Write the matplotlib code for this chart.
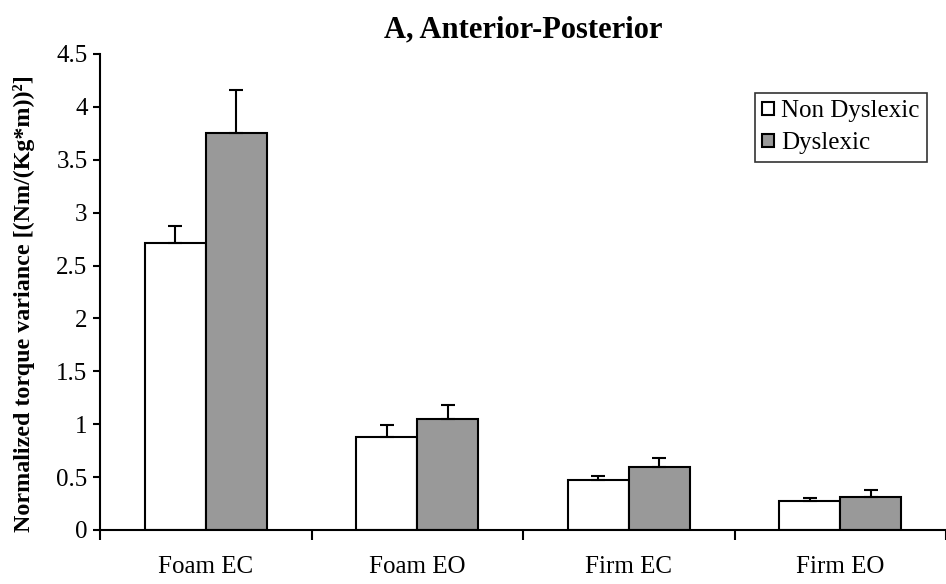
import matplotlib.pyplot as plt
import numpy as np

# dados
condicoes = ['Foam EC', 'Foam EO', 'Firm EC', 'Firm EO']
nao_dislexico = [2.71, 0.88, 0.47, 0.27]
nao_dislexico_erro = [0.16, 0.11, 0.045, 0.03]
dislexico = [3.75, 1.05, 0.60, 0.315]
dislexico_erro = [0.41, 0.13, 0.08, 0.065]

plt.rcParams['font.family'] = ['Liberation Serif', 'DejaVu Serif']

fig = plt.figure(figsize=(9.46, 5.84), dpi=100)
ax = fig.add_axes([100 / 946, 54 / 584, 846 / 946, 476 / 584])

x = np.arange(len(condicoes))
largura = 0.288

ax.bar(x - largura / 2, nao_dislexico, largura, color='white', edgecolor='black',
       linewidth=1.5, label='Non Dyslexic', zorder=2)
ax.bar(x + largura / 2, dislexico, largura, color='#999999', edgecolor='black',
       linewidth=1.5, label='Dyslexic', zorder=2)
ax.errorbar(x - largura / 2, nao_dislexico, yerr=[np.zeros(4), nao_dislexico_erro],
            fmt='none', ecolor='black', elinewidth=1.5, capsize=4.7, capthick=1.5, zorder=3)
ax.errorbar(x + largura / 2, dislexico, yerr=[np.zeros(4), dislexico_erro],
            fmt='none', ecolor='black', elinewidth=1.5, capsize=4.7, capthick=1.5, zorder=3)

ax.set_xlim(-0.5, 3.5)
ax.set_ylim(0, 4.5)
ax.set_yticks(np.arange(0, 4.51, 0.5))
ax.set_yticklabels(['0', '0.5', '1', '1.5', '2', '2.5', '3', '3.5', '4', '4.5'])

# marcas nas divisões, rótulos no centro
ax.set_xticks(np.arange(-0.5, 3.6, 1))
ax.set_xticklabels([])
ax.set_xticks(x, minor=True)
ax.set_xticklabels(condicoes, minor=True)
ax.tick_params(axis='x', which='minor', length=0, pad=19, labelsize=18)
ax.tick_params(axis='x', which='major', length=7, width=1.5, direction='out')
ax.tick_params(axis='y', length=5, width=1.5, direction='out', labelsize=18, pad=4)

ax.spines['top'].set_visible(False)
ax.spines['right'].set_visible(False)
ax.spines['left'].set_linewidth(1.5)
ax.spines['bottom'].set_linewidth(1.5)

ax.set_ylabel('Normalized torque variance [(Nm/(Kg*m))²]', fontsize=17.3,
              fontweight='bold', va='center')
ax.yaxis.set_label_coords(-0.09, 0.475)
ax.set_title('A, Anterior-Posterior', fontsize=22, fontweight='bold', pad=12)

leg = ax.legend(loc='upper right', bbox_to_anchor=(827 / 846, 437 / 476), fontsize=18,
                frameon=True, fancybox=False, handlelength=0.45, handleheight=0.45,
                handletextpad=0.3, borderpad=0.3, labelspacing=0.4, borderaxespad=0)
leg.get_frame().set_edgecolor('black')
leg.get_frame().set_linewidth(1.2)

fig.savefig('out.png', dpi=100)
